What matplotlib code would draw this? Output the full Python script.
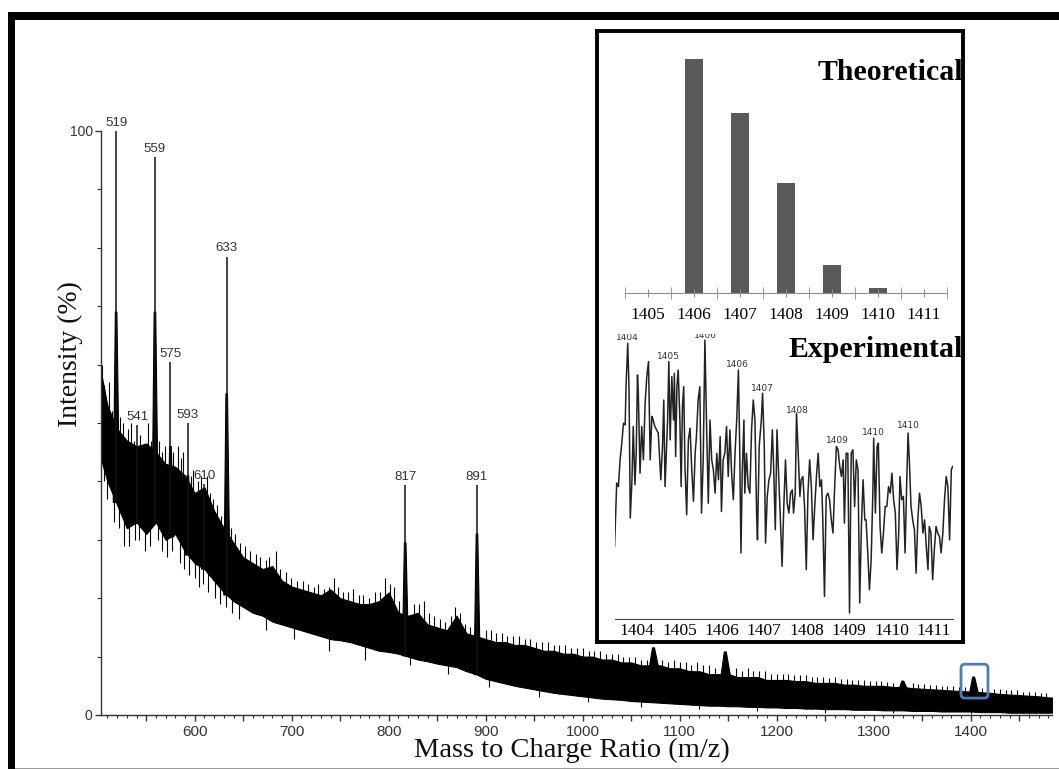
import numpy as np
import matplotlib
matplotlib.use("Agg")
import matplotlib.pyplot as plt
from matplotlib.patches import Rectangle, FancyBboxPatch
from matplotlib.ticker import MultipleLocator, FixedLocator, FuncFormatter

# ---------------- data ----------------
# main spectrum: dense noise band (upper / lower envelope, % intensity)
env_mz = [503, 510, 520, 530, 540, 550, 560, 570, 580, 590, 600, 610, 620, 630, 640,
          650, 660, 670, 680, 690, 700, 710, 720, 730, 740, 750, 760, 770, 780, 790,
          800, 810, 820, 830, 840, 850, 860, 870, 880, 890, 900, 910, 920, 930, 940,
          950, 960, 970, 980, 990, 1000, 1010, 1020, 1030, 1040, 1050, 1060, 1070,
          1080, 1090, 1100, 1110, 1120, 1130, 1140, 1150, 1160, 1170, 1180, 1190,
          1200, 1210, 1220, 1230, 1240, 1250, 1260, 1270, 1280, 1290, 1300, 1310,
          1320, 1330, 1340, 1350, 1360, 1370, 1380, 1390, 1400, 1410, 1420, 1430,
          1440, 1450, 1460, 1470, 1480, 1484]
env_upper = [59, 53, 49, 47, 46, 46.5, 45, 43, 42.5, 41, 38, 39, 35, 32, 29.5,
             27, 26, 25, 25.5, 23, 22, 21.5, 21, 20.5, 21.5, 20, 19.5, 19, 19, 19.5,
             21, 17.5, 17, 17.5, 15.5, 15, 14.5, 17, 14, 13.5, 13, 12.5, 12.5, 12, 12,
             11.5, 11, 11, 10.5, 10.5, 10, 10, 9.5, 9.5, 9, 9, 8.5, 8.5,
             8.5, 8, 8, 7.5, 7.5, 7, 7, 7, 6.5, 6.5, 6.5, 6,
             6, 6, 5.8, 5.8, 5.5, 5.5, 5.5, 5.2, 5.2, 5, 5, 5,
             4.8, 4.8, 4.6, 4.5, 4.4, 4.3, 4.2, 4.1, 4.0, 3.9, 3.8, 3.6,
             3.5, 3.4, 3.3, 3.2, 3.0, 3.0]
env_lower = [44, 40, 36, 32, 33, 31, 33, 30, 31, 28, 26, 25, 23, 21, 19.5,
             18.5, 17.5, 17, 16, 15.5, 15, 14.5, 14, 13.5, 13, 12.8, 12.5, 12, 11.5, 11,
             10.8, 10.5, 10, 9.5, 9.2, 8.8, 8.5, 8.2, 7.5, 7, 6.2, 5.8, 5.4, 5, 4.7,
             4.4, 4.1, 3.8, 3.6, 3.4, 3.2, 3.0, 2.8, 2.7, 2.6, 2.4, 2.3, 2.2,
             2.1, 2.0, 1.9, 1.8, 1.7, 1.6, 1.6, 1.5, 1.5, 1.4, 1.4, 1.3,
             1.3, 1.2, 1.2, 1.1, 1.1, 1.0, 1.0, 1.0, 0.9, 0.9, 0.9, 0.8,
             0.8, 0.8, 0.7, 0.7, 0.7, 0.6, 0.6, 0.6, 0.6, 0.5, 0.5, 0.5,
             0.4, 0.4, 0.4, 0.4, 0.4, 0.4]

# noise spikes above the band
spike_up_mz = [504, 507, 512, 515, 523, 526, 531, 534, 537, 544, 547, 552, 555, 563, 566,
               569, 578, 583, 586, 588, 596, 598, 603, 606, 613, 616, 619, 623, 627, 637,
               642, 647, 652, 657, 663, 667, 674, 677, 684, 688, 694, 699, 705, 712, 717,
               723, 727, 733, 738, 744, 748, 753, 758, 763, 769, 774, 780, 786, 791, 796,
               801, 805, 811, 826, 831, 836, 842, 847, 853, 858, 864, 868, 874, 879, 884,
               900, 905, 911, 917, 922, 928, 934, 940, 946, 952, 958, 964, 970, 976, 982,
               988, 994, 1000, 1006, 1012, 1018, 1024, 1030, 1036, 1042, 1048, 1054, 1060,
               1066, 1082, 1088, 1094, 1100, 1106, 1112, 1118, 1124, 1130, 1136, 1158, 1164,
               1170, 1176, 1182, 1188, 1194, 1200, 1206, 1212, 1218, 1224, 1230, 1236, 1242,
               1248, 1254, 1260, 1266, 1272, 1278, 1284, 1290, 1296, 1302, 1308, 1314, 1320,
               1340, 1346, 1352, 1358, 1364, 1370, 1376, 1382, 1388, 1394, 1412, 1418, 1424,
               1430, 1436, 1442, 1448, 1454, 1460, 1466, 1472, 1478]
spike_up_top = [60, 56, 57, 52, 51, 50, 49, 50, 47, 48, 46, 50, 47, 47, 45,
                46, 45, 46, 44, 45, 41, 42, 40, 41, 41, 38, 37, 36, 34, 32,
                31, 29.5, 29, 28, 27.5, 27, 26.5, 27, 28, 25, 24.5, 23.5, 23, 23, 22.5,
                22, 22.5, 21.5, 22, 23.5, 22, 21, 21, 21.5, 20.5, 20.5, 20, 21, 21, 23.5,
                22.5, 22, 19.5, 19, 19, 19.5, 17.5, 17, 16.5, 16, 17, 18.5, 17.5, 15.5, 15,
                14.5, 14.5, 14, 14, 13.5, 13.5, 13.5, 13, 13, 12.5, 12.5, 12.5, 12, 12, 12,
                11.5, 11.5, 11.5, 11, 11, 11, 10.5, 10.5, 10.5, 10, 10, 10, 9.5,
                9.5, 9.5, 9, 9.5, 9, 9, 8.5, 9, 8.5, 8.5, 8, 8, 7.5,
                8, 7.5, 7.5, 7.5, 7, 7, 7, 7, 6.8, 6.8, 6.8, 6.5, 6.5,
                6.5, 6.3, 6.5, 6.2, 6.2, 6, 6, 6, 5.8, 5.8, 5.8, 5.6, 5.5,
                5.5, 5.3, 5.3, 5.2, 5.2, 5, 5, 5, 4.8, 4.8, 4.6, 4.6, 4.5,
                4.4, 4.3, 4.2, 4.2, 4, 4, 3.9, 3.8, 3.7]
# noise spikes below the band
spike_dn_mz = [506, 510, 517, 522, 527, 532, 538, 543, 549, 554, 562, 566, 571, 577, 585,
               589, 594, 600, 604, 609, 614, 621, 626, 632, 638, 646, 673, 702, 738, 776,
               822, 861, 903, 955, 1005, 1060, 1120, 1180, 1250, 1320, 1400, 1460]
spike_dn_bot = [40, 37, 33, 32, 29, 29, 30, 30, 28, 29, 30, 28, 27, 28, 26,
                25, 24, 23.5, 22, 22.5, 21, 20, 19, 18.5, 17.5, 16.5, 14.5, 13, 11, 9.5,
                8.5, 7, 4.8, 3.0, 2.2, 1.4, 1.0, 0.7, 0.4, 0.3, 0.2, 0.2]

# labelled peaks
peak_mz = [519, 541, 559, 575, 593, 610, 633, 817, 891]
peak_top = [100, 49.7, 95.5, 60.4, 50, 39.5, 78.5, 39.4, 39.4]
peak_shoulder = [69, 40, 69, 46, 41, 36, 55, 29.5, 31]

# unlabelled small peaks
mpk_mz = [1073, 1147, 1330, 1403]
mpk_top = [11.5, 10.8, 5.8, 6.5]

# x tick labels
x_ticks = [600, 700, 800, 900, 1000, 1100, 1200, 1300, 1400]

# inset: theoretical isotope pattern
theo_mz = [1405, 1406, 1407, 1408, 1409, 1410, 1411]
theo_int = [0, 100, 76.9, 47.0, 12.0, 2.1, 0]

# inset: experimental isotope pattern
exp_mz = [1403.47, 1403.50, 1403.52, 1403.56, 1403.60, 1403.64, 1403.68, 1403.72, 1403.74,
          1403.78, 1403.81, 1403.84, 1403.88, 1403.91, 1403.95, 1403.98, 1404.01, 1404.03,
          1404.07, 1404.11, 1404.15, 1404.19, 1404.23, 1404.27, 1404.31, 1404.35, 1404.38,
          1404.42, 1404.50, 1404.56, 1404.60, 1404.63, 1404.66, 1404.69, 1404.72, 1404.75,
          1404.78, 1404.82, 1404.86, 1404.88, 1404.91, 1404.94, 1404.97, 1405.01, 1405.04,
          1405.07, 1405.10, 1405.13, 1405.17, 1405.21, 1405.25, 1405.29, 1405.33, 1405.37,
          1405.40, 1405.44, 1405.48, 1405.52, 1405.56, 1405.60, 1405.64, 1405.68, 1405.72,
          1405.76, 1405.80, 1405.84, 1405.88, 1405.92, 1405.96, 1405.99, 1406.03, 1406.07,
          1406.11, 1406.15, 1406.19, 1406.23, 1406.27, 1406.31, 1406.35, 1406.39, 1406.42,
          1406.45, 1406.48, 1406.52, 1406.54, 1406.58, 1406.62, 1406.66, 1406.70, 1406.74,
          1406.78, 1406.82, 1406.84, 1406.88, 1406.93, 1406.96, 1407.00, 1407.03, 1407.07,
          1407.11, 1407.15, 1407.19, 1407.22, 1407.26, 1407.30, 1407.34, 1407.38, 1407.42,
          1407.46, 1407.50, 1407.54, 1407.58, 1407.62, 1407.66, 1407.69, 1407.73, 1407.76,
          1407.80, 1407.84, 1407.87, 1407.91, 1407.95, 1407.99, 1408.03, 1408.07, 1408.11,
          1408.15, 1408.19, 1408.23, 1408.27, 1408.31, 1408.35, 1408.38, 1408.42, 1408.46,
          1408.50, 1408.54, 1408.58, 1408.62, 1408.66, 1408.70, 1408.74, 1408.78, 1408.82,
          1408.86, 1408.89, 1408.93, 1408.97, 1409.01, 1409.05, 1409.09, 1409.13, 1409.17,
          1409.21, 1409.25, 1409.29, 1409.33, 1409.37, 1409.40, 1409.44, 1409.48, 1409.52,
          1409.56, 1409.58, 1409.62, 1409.66, 1409.69, 1409.73, 1409.77, 1409.81, 1409.85,
          1409.89, 1409.93, 1409.97, 1410.01, 1410.05, 1410.09, 1410.13, 1410.17, 1410.20,
          1410.24, 1410.28, 1410.32, 1410.36, 1410.39, 1410.42, 1410.46, 1410.50, 1410.54,
          1410.58, 1410.62, 1410.66, 1410.70, 1410.74, 1410.78, 1410.82, 1410.86, 1410.89,
          1410.93, 1410.97, 1411.01, 1411.05, 1411.09, 1411.13, 1411.17, 1411.21, 1411.25,
          1411.29, 1411.33, 1411.37, 1411.41, 1411.44]
exp_int = [24.4, 37.8, 47.6, 46.3, 56.1, 62.2, 69.5, 68.9, 82.9,
           98.8, 82.9, 34.8, 48.8, 68.3, 47.0, 58.5, 87.2, 80.5,
           51.2, 68.3, 56.1, 76.8, 86.6, 92.1, 56.1, 72.0, 70.7,
           68.3, 65.9, 48.8, 61.0, 78.0, 46.3, 58.5, 70.7, 92.1,
           63.4, 86.6, 70.7, 87.8, 57.3, 82.9, 89.0, 70.7, 46.3,
           75.6, 82.9, 53.7, 36.0, 63.4, 67.7, 52.4, 40.9, 58.5,
           64.6, 78.0, 82.9, 36.6, 56.1, 100.0, 68.3, 40.2, 70.7,
           56.1, 52.4, 43.9, 58.5, 48.8, 64.6, 37.2, 56.1, 58.5,
           68.3, 50.0, 67.1, 51.2, 41.5, 58.5, 70.7, 89.0, 61.0,
           22.0, 51.2, 70.7, 43.9, 58.5, 46.3, 43.9, 67.1, 78.0,
           70.7, 35.4, 26.8, 61.0, 70.7, 80.5, 61.0, 25.6, 42.7,
           48.8, 51.2, 67.1, 53.7, 30.5, 67.1, 50.0, 34.1, 17.1,
           39.0, 56.1, 40.2, 36.6, 43.9, 45.1, 36.6, 43.9, 73.2,
           58.5, 42.7, 48.8, 50.0, 39.0, 15.9, 43.9, 56.1, 46.3,
           26.8, 39.0, 50.0, 58.5, 46.3, 48.8, 34.1, 6.1, 42.7,
           43.9, 41.5, 34.1, 29.3, 46.3, 61.0, 59.8, 53.7, 50.0,
           56.1, 32.9, 58.5, 58.5, 0.0, 58.5, 59.8, 39.0, 56.1,
           52.4, 3.7, 31.7, 48.8, 34.1, 34.1, 22.0, 8.5, 19.5,
           43.9, 64.0, 36.6, 61.0, 62.2, 31.7, 22.0, 29.3, 39.0,
           39.0, 46.3, 43.9, 51.2, 41.5, 36.6, 15.9, 29.3, 50.0,
           41.5, 42.7, 22.0, 48.8, 65.9, 56.1, 39.0, 34.1, 30.5,
           14.6, 34.1, 43.9, 39.0, 29.3, 34.1, 24.4, 15.9, 31.7,
           29.3, 12.2, 23.2, 31.7, 29.3, 28.0, 22.0, 29.3, 41.5,
           50.0, 46.3, 26.8, 52.4, 53.7]
exp_lbl_mz = [1403.78, 1404.75, 1405.60, 1406.37, 1406.96, 1407.78, 1408.72, 1409.58, 1410.39]
exp_lbl_int = [101.0, 94.1, 101.8, 90.9, 82.1, 74.1, 63.2, 66.2, 68.5]
exp_lbl_txt = ["1404", "1405", "1406", "1406", "1407", "1408", "1409", "1410", "1410"]
exp_ticks = [1404, 1405, 1406, 1407, 1408, 1409, 1410, 1411]

# ---------------- figure ----------------
W, H = 1059, 769
fig = plt.figure(figsize=(W / 100, H / 100), dpi=100)
fig.patch.set_facecolor("white")


def fr(x0, y0, x1, y1):
    return [x0 / W, 1 - y1 / H, (x1 - x0) / W, (y1 - y0) / H]


SANS = ["Liberation Sans", "DejaVu Sans"]
SERIF = ["Liberation Serif", "DejaVu Serif"]
GREY = "#333333"

ax = fig.add_axes(fr(101, 131, 1052, 715))
ax.set_xlim(503.4, 1483.8)
ax.set_ylim(0, 100)
for s in ["top", "right"]:
    ax.spines[s].set_visible(False)
for s in ["left", "bottom"]:
    ax.spines[s].set_color(GREY)
    ax.spines[s].set_linewidth(1.0)

ax.fill_between(env_mz, env_lower, env_upper, color="black", lw=0.8, zorder=2)
ax.vlines(spike_up_mz, np.interp(spike_up_mz, env_mz, env_lower), spike_up_top,
          color="black", lw=0.8, zorder=2)
ax.vlines(spike_dn_mz, spike_dn_bot, np.interp(spike_dn_mz, env_mz, env_upper),
          color="black", lw=0.8, zorder=2)

for m, top, sh in zip(peak_mz, peak_top, peak_shoulder):
    base = float(np.interp(m, env_mz, env_lower))
    ax.fill([m - 3, m - 0.8, m + 0.8, m + 3.5], [base, sh, sh, base], color="black",
            lw=0.8, zorder=3)
    ax.vlines(m, base, top, color="#111111", lw=1.1, zorder=3)
    ax.annotate(str(m), (m, top), xytext=(0, 1.5), textcoords="offset points",
                ha="center", va="bottom", fontsize=9.5, color=GREY, family=SANS,
                annotation_clip=False)

for m, top in zip(mpk_mz, mpk_top):
    base = float(np.interp(m, env_mz, env_upper))
    ax.fill([m - 5, m - 1, m + 1, m + 6], [base - 1, top, top, base - 1], color="black",
            lw=0.8, zorder=3)

# blue marker box around the 1403 cluster
box = FancyBboxPatch((1390, 2.9), 27.8, 5.8,
                     boxstyle="round,pad=0,rounding_size=4",
                     mutation_aspect=0.166, transform=ax.transData,
                     fc="none", ec="#4a7ebb", lw=2.0, zorder=5, clip_on=False)
ax.add_patch(box)

ax.xaxis.set_major_locator(MultipleLocator(50))
ax.xaxis.set_minor_locator(MultipleLocator(10))
ax.xaxis.set_major_formatter(FuncFormatter(lambda v, p: f"{int(v)}" if int(round(v)) in x_ticks else ""))
ax.yaxis.set_major_locator(FixedLocator([0, 100]))
ax.yaxis.set_minor_locator(FixedLocator([10, 20, 30, 40, 50, 60, 70, 80, 90]))
ax.tick_params(axis="x", which="major", length=4, width=1, color=GREY, labelsize=11,
               labelcolor=GREY, pad=3)
ax.tick_params(axis="x", which="minor", length=2.5, width=0.8, color=GREY)
ax.tick_params(axis="y", which="major", length=4, width=1, color=GREY, labelsize=10,
               labelcolor=GREY, pad=2)
ax.tick_params(axis="y", which="minor", length=3, width=0.8, color=GREY)
for lab in ax.get_xticklabels() + ax.get_yticklabels():
    lab.set_family(SANS)

fig.text(70 / W, 1 - 354 / H, "Intensity (%)", rotation=90, ha="center", va="center",
         fontsize=20, family=SERIF, color="#111111")
fig.text(572 / W, 1 - 750 / H, "Mass to Charge Ratio (m/z)", ha="center", va="center",
         fontsize=20.5, family=SERIF, color="#111111")

# ---------------- inset ----------------
inset_rect = fr(597, 31, 963, 642)
bg = fig.add_axes(inset_rect, zorder=5)
bg.set_facecolor("white")
bg.set_xticks([]); bg.set_yticks([])
for s in bg.spines.values():
    s.set_visible(False)

th = fig.add_axes(fr(625, 59, 947, 293), zorder=6)
th.set_facecolor("none")
th.bar(theo_mz, theo_int, width=0.39, color="#595959")
th.set_xlim(1404.5, 1411.5)
th.set_ylim(0, 100)
for s in ["top", "right", "left"]:
    th.spines[s].set_visible(False)
th.spines["bottom"].set_color("#8c8c8c")
th.set_yticks([])
th.set_xticks(theo_mz)
th.set_xticklabels([str(v) for v in theo_mz])
th.xaxis.set_minor_locator(FixedLocator([v + 0.5 for v in [1404] + theo_mz]))
th.tick_params(axis="x", which="major", direction="inout", length=6, color="#8c8c8c",
               labelsize=12.5, pad=7)
th.tick_params(axis="x", which="minor", direction="inout", length=8, color="#8c8c8c")
for lab in th.get_xticklabels():
    lab.set_family(SERIF)
th.text(963 / W, 1 - 80 / H, "Theoretical", transform=fig.transFigure, ha="right",
        va="baseline", fontsize=21.5, fontweight="bold", family=SERIF, clip_on=False)

ex = fig.add_axes(fr(615, 334, 953, 619), zorder=6)
ex.set_facecolor("none")
ex.plot(exp_mz, exp_int, color="#222222", lw=1.1)
ex.set_xlim(1403.48, 1411.45)
ex.set_ylim(-2.2, 102.2)
for s in ["top", "right", "left"]:
    ex.spines[s].set_visible(False)
ex.spines["bottom"].set_color("#444444")
ex.set_yticks([])
ex.set_xticks(exp_ticks)
ex.set_xticklabels([str(v) for v in exp_ticks])
ex.tick_params(axis="x", length=0, labelsize=12.5, pad=3)
for lab in ex.get_xticklabels():
    lab.set_family(SERIF)
for m, v, t in zip(exp_lbl_mz, exp_lbl_int, exp_lbl_txt):
    ex.text(m, v, t, ha="center", va="center", fontsize=6.5, color=GREY,
            family=["DejaVu Sans"], clip_on=True)
ex.text(963 / W, 1 - 357 / H, "Experimental", transform=fig.transFigure, ha="right",
        va="baseline", fontsize=21.5, fontweight="bold", family=SERIF, clip_on=False)

border = fig.add_axes(inset_rect, zorder=8)
border.set_facecolor("none")
border.set_xticks([]); border.set_yticks([])
for s in border.spines.values():
    s.set_linewidth(2.8)
    s.set_color("black")

# ---------------- page frame ----------------
fig.add_artist(Rectangle((8 / W, 1 - 20 / H), (W - 8) / W, 8 / H, transform=fig.transFigure,
                         fc="black", ec="none"))
fig.add_artist(Rectangle((8 / W, 0), 7 / W, 1 - 12 / H, transform=fig.transFigure,
                         fc="black", ec="none"))
fig.add_artist(Rectangle((15 / W, 0), (W - 15) / W, 1.5 / H, transform=fig.transFigure,
                         fc="#9a9a9a", ec="none"))

fig.savefig("out.png", dpi=100, facecolor="white")
